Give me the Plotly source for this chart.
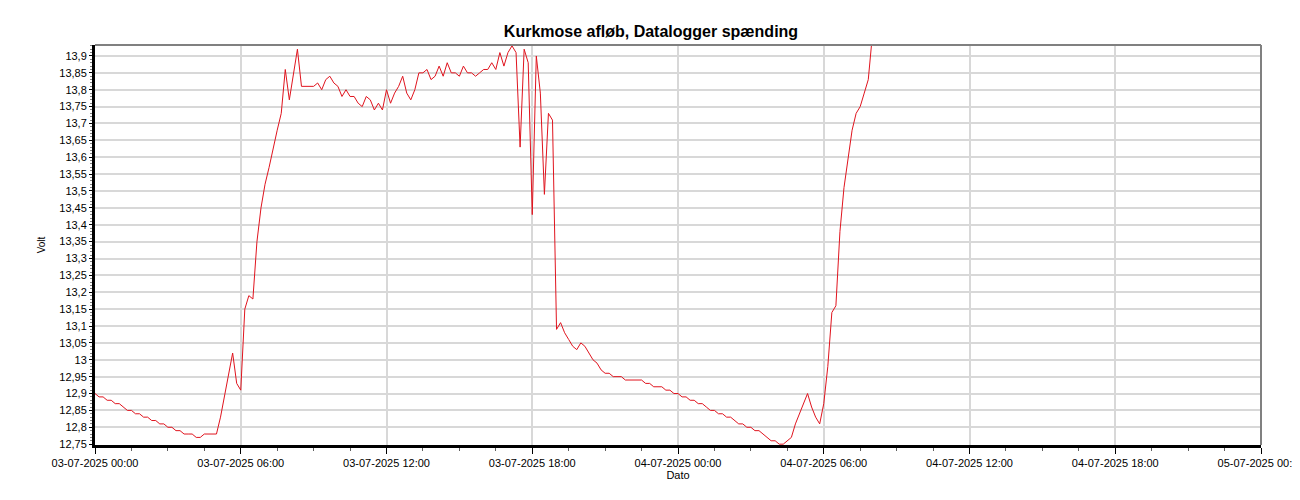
import pandas as pd
import plotly.graph_objects as go

# Logged voltage, one reading every 10 minutes from 03-07-2025 00:00
start_time = "2025-07-03 00:00"
interval = "10min"
volt = [
    # 03-07 00:00 - 05:50
    12.90, 12.89, 12.89, 12.88, 12.88, 12.87, 12.87, 12.86, 12.85, 12.85, 12.84, 12.84,
    12.83, 12.83, 12.82, 12.82, 12.81, 12.81, 12.80, 12.80, 12.79, 12.79, 12.78, 12.78,
    12.78, 12.77, 12.77, 12.78, 12.78, 12.78, 12.78, 12.83, 12.89, 12.96, 13.02, 12.93,
    # 06:00 - 11:50
    12.91, 13.15, 13.19, 13.18, 13.35, 13.45, 13.52, 13.57, 13.63, 13.68, 13.73, 13.86,
    13.77, 13.85, 13.92, 13.81, 13.81, 13.81, 13.81, 13.82, 13.80, 13.83, 13.84, 13.82,
    13.81, 13.78, 13.80, 13.78, 13.78, 13.76, 13.75, 13.78, 13.77, 13.74, 13.76, 13.74,
    # 12:00 - 17:50
    13.80, 13.76, 13.79, 13.81, 13.84, 13.79, 13.77, 13.80, 13.85, 13.85, 13.86, 13.83,
    13.84, 13.87, 13.84, 13.88, 13.85, 13.85, 13.84, 13.87, 13.85, 13.85, 13.84, 13.85,
    13.86, 13.86, 13.88, 13.86, 13.91, 13.87, 13.91, 13.93, 13.91, 13.63, 13.92, 13.88,
    # 18:00 - 23:50
    13.43, 13.90, 13.79, 13.49, 13.73, 13.71, 13.09, 13.11, 13.08, 13.06, 13.04, 13.03,
    13.05, 13.04, 13.02, 13.00, 12.99, 12.97, 12.96, 12.96, 12.95, 12.95, 12.95, 12.94,
    12.94, 12.94, 12.94, 12.94, 12.93, 12.93, 12.92, 12.92, 12.92, 12.91, 12.91, 12.90,
    # 04-07 00:00 - 05:50
    12.90, 12.89, 12.89, 12.88, 12.88, 12.87, 12.87, 12.86, 12.85, 12.85, 12.84, 12.84,
    12.83, 12.83, 12.82, 12.81, 12.81, 12.80, 12.80, 12.79, 12.79, 12.78, 12.77, 12.76,
    12.76, 12.75, 12.75, 12.76, 12.77, 12.81, 12.84, 12.87, 12.90, 12.86, 12.83, 12.81,
    # 06:00 - 08:00
    12.87, 12.98, 13.14, 13.16, 13.38, 13.51, 13.60, 13.68, 13.73, 13.75, 13.79, 13.83,
    13.96,
]

y_tick_values = [12.75, 12.80, 12.85, 12.90, 12.95, 13.00, 13.05, 13.10, 13.15, 13.20,
                 13.25, 13.30, 13.35, 13.40, 13.45, 13.50, 13.55, 13.60, 13.65, 13.70,
                 13.75, 13.80, 13.85, 13.90]
y_tick_labels = ["12,75", "12,8", "12,85", "12,9", "12,95", "13", "13,05", "13,1",
                 "13,15", "13,2", "13,25", "13,3", "13,35", "13,4", "13,45", "13,5",
                 "13,55", "13,6", "13,65", "13,7", "13,75", "13,8", "13,85", "13,9"]

title_text = "Kurkmose afløb, Datalogger spænding"
x_title = "Dato"
y_title = "Volt"

times = pd.date_range(start=start_time, periods=len(volt), freq=interval)

FONT = "Liberation Sans, Arial, sans-serif"
PAGE_OFFSET = 8  # default body margin of the html page

fig = go.Figure()
fig.add_trace(go.Scatter(
    x=times, y=volt, mode="lines",
    line=dict(color="#e0141e", width=1),
    hoverinfo="x+y", showlegend=False,
))

fig.update_layout(
    width=1300, height=500,
    margin=dict(l=95 - PAGE_OFFSET, r=1300 + PAGE_OFFSET - 1261, t=45 - PAGE_OFFSET,
                b=500 + PAGE_OFFSET - 445, autoexpand=False),
    paper_bgcolor="white", plot_bgcolor="white",
    font=dict(family=FONT, size=11, color="black"),
    title=dict(text="<b>" + title_text + "</b>", x=(651 - PAGE_OFFSET) / 1300, xanchor="center",
               y=1 - (31 - PAGE_OFFSET) / 500, yanchor="middle", automargin=False,
               font=dict(family=FONT, size=16, color="black")),
    shapes=[
        dict(type="line", xref="paper", yref="paper", x0=0, x1=1, y0=1, y1=1,
             line=dict(color="#808080", width=2)),
        dict(type="line", xref="paper", yref="paper", x0=1, x1=1, y0=0, y1=1,
             line=dict(color="#808080", width=2)),
    ],
)

fig.update_xaxes(
    type="date", automargin=False,
    range=["2025-07-03 00:00", "2025-07-05 00:00"],
    tick0="2025-07-03 00:00", dtick=6 * 3600 * 1000,
    tickformat="%d-%m-%Y %H:%M",
    ticks="outside", ticklen=6, tickwidth=1, tickcolor="black",
    showline=True, linecolor="black", linewidth=3,
    showgrid=True, gridcolor="#d8d8d8", gridwidth=2,
    minor=dict(dtick=1.5 * 3600 * 1000, tick0="2025-07-03 00:00", ticks="outside",
               ticklen=3, tickcolor="#606060", showgrid=False),
    zeroline=False,
    ticklabeloverflow="allow",
    title=dict(text=x_title, standoff=0, font=dict(size=11)),
    tickfont=dict(size=11),
)

fig.update_yaxes(
    automargin=False,
    range=[12.7475, 13.9325],
    tickmode="array", tickvals=y_tick_values, ticktext=y_tick_labels,
    ticks="outside", ticklen=3, tickwidth=1, tickcolor="black",
    showline=True, linecolor="black", linewidth=3,
    showgrid=True, gridcolor="#d8d8d8", gridwidth=2,
    minor=dict(dtick=0.01, tick0=12.75, ticks="outside", ticklen=2,
               tickcolor="#808080", showgrid=False),
    zeroline=False,
    title=dict(text=y_title, standoff=12, font=dict(size=10)),
    tickfont=dict(size=11),
)

fig.write_html("out.html")
